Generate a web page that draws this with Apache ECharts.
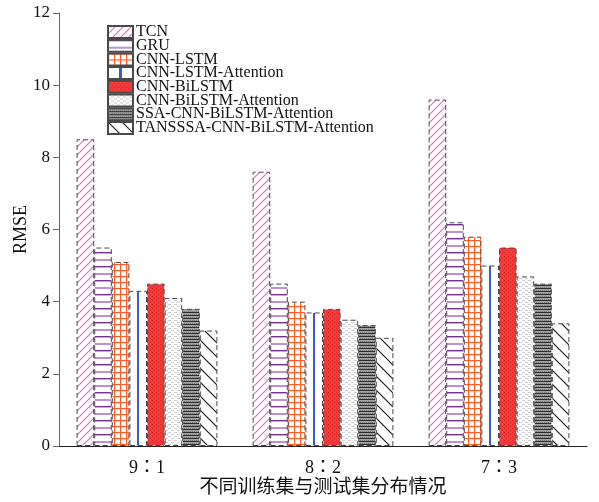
<!DOCTYPE html>
<html>
<head>
<meta charset="utf-8">
<script src="https://cdn.jsdelivr.net/npm/echarts@6/dist/echarts.min.js"></script>
<style>
  html, body { margin: 0; padding: 0; background: #fff; }
  #chart { width: 599px; height: 502px; }
</style>
</head>
<body>
<div id="chart"></div>
<script>
// Training/test split ratios on the x axis
const categories = ['9：1', '8：2', '7：3'];

// RMSE of each model per split
const tcn          = [8.5, 7.6, 9.6];
const gru          = [5.5, 4.5, 6.2];
const cnnLstm      = [5.1, 4.0, 5.8];
const cnnLstmAtt   = [4.3, 3.7, 5.0];
const cnnBiLstm    = [4.5, 3.8, 5.5];
const cnnBiLstmAtt = [4.1, 3.5, 4.7];
const ssaModel     = [3.8, 3.35, 4.5];
const tanModel     = [3.2, 3.0, 3.4];

const modelNames = [
  'TCN', 'GRU', 'CNN-LSTM', 'CNN-LSTM-Attention', 'CNN-BiLSTM',
  'CNN-BiLSTM-Attention', 'SSA-CNN-BiLSTM-Attention', 'TANSSSA-CNN-BiLSTM-Attention'
];
const modelValues = [tcn, gru, cnnLstm, cnnLstmAtt, cnnBiLstm, cnnBiLstmAtt, ssaModel, tanModel];

// ---- hatch fills -------------------------------------------------------
function tile(w, h, draw) {
  const c = document.createElement('canvas');
  c.width = w; c.height = h;
  const ctx = c.getContext('2d');
  draw(ctx, w, h);
  return { image: c, repeat: 'repeat' };
}

const fillTcn = tile(8, 8, (ctx, w, h) => {
  ctx.fillStyle = '#fff'; ctx.fillRect(0, 0, w, h);
  ctx.strokeStyle = '#ee6cb8'; ctx.lineWidth = 1.2;
  ctx.beginPath();
  ctx.moveTo(-1, h + 1); ctx.lineTo(w + 1, -1);
  ctx.moveTo(-1, 1); ctx.lineTo(1, -1);
  ctx.moveTo(w - 1, h + 1); ctx.lineTo(w + 1, h - 1);
  ctx.stroke();
});

const fillGru = tile(4, 14, (ctx, w, h) => {
  ctx.fillStyle = '#fff'; ctx.fillRect(0, 0, w, h);
  ctx.fillStyle = '#6f2e98'; ctx.fillRect(0, 0, w, 1.4);
  ctx.fillStyle = '#b893d8'; ctx.fillRect(0, 7, w, 2);
});

const fillCnnLstm = tile(6, 6, (ctx, w, h) => {
  ctx.fillStyle = '#fff'; ctx.fillRect(0, 0, w, h);
  ctx.fillStyle = '#fb5e24';
  ctx.fillRect(0, 0, w, 1.2);
  ctx.fillRect(0, 0, 1.2, h);
});

const fillCnnLstmAtt = {
  type: 'linear', x: 0, y: 0, x2: 1, y2: 0,
  colorStops: [
    { offset: 0, color: '#fff' }, { offset: 0.46, color: '#fff' },
    { offset: 0.46, color: '#3a5bc6' }, { offset: 0.54, color: '#3a5bc6' },
    { offset: 0.54, color: '#fff' }, { offset: 1, color: '#fff' }
  ]
};

const fillCnnBiLstm = tile(4, 4, (ctx, w, h) => {
  ctx.fillStyle = '#ef3b3b'; ctx.fillRect(0, 0, w, h);
  ctx.fillStyle = '#e02a2a'; ctx.fillRect(0, 0, 1, 1); ctx.fillRect(2, 2, 1, 1);
});

const fillCnnBiLstmAtt = tile(6, 4, (ctx, w, h) => {
  ctx.fillStyle = '#fafafa'; ctx.fillRect(0, 0, w, h);
  ctx.fillStyle = '#d2d2d2';
  ctx.fillRect(0, 0, 3, 1);
  ctx.fillRect(3, 2, 3, 1);
});

const fillSsa = tile(4, 3, (ctx, w, h) => {
  ctx.fillStyle = '#a4a4a4'; ctx.fillRect(0, 0, w, h);
  ctx.fillStyle = '#2e2e2e'; ctx.fillRect(0, 0, w, 1);
  ctx.fillStyle = '#767676'; ctx.fillRect(0, 2, 1, 1); ctx.fillRect(2, 2, 1, 1);
});

const fillTan = tile(14, 14, (ctx, w, h) => {
  ctx.fillStyle = '#fff'; ctx.fillRect(0, 0, w, h);
  ctx.strokeStyle = '#1e1e1e'; ctx.lineWidth = 1.2;
  ctx.beginPath();
  ctx.moveTo(-1, -1); ctx.lineTo(w + 1, h + 1);
  ctx.moveTo(w - 1, -1); ctx.lineTo(w + 1, 1);
  ctx.moveTo(-1, h - 1); ctx.lineTo(1, h + 1);
  ctx.stroke();
});

const fills = [fillTcn, fillGru, fillCnnLstm, fillCnnLstmAtt, fillCnnBiLstm,
               fillCnnBiLstmAtt, fillSsa, fillTan];

// ---- chart -------------------------------------------------------------
const serif = "'Liberation Serif', 'Times New Roman', serif";

const series = modelNames.map((name, i) => ({
  name: name,
  type: 'bar',
  data: modelValues[i],
  barGap: '0%',
  barCategoryGap: '20%',
  itemStyle: {
    color: fills[i],
    borderColor: '#4a4a4a',
    borderWidth: 1,
    borderType: [5, 3]
  },
  emphasis: { disabled: true }
}));

const chart = echarts.init(document.getElementById('chart'), null, { renderer: 'canvas' });
chart.setOption({
  animation: false,
  backgroundColor: '#fff',
  grid: { left: 59, right: 12, top: 13, bottom: 56, containLabel: false, outerBoundsMode: 'none' },
  legend: {
    orient: 'vertical',
    left: 107,
    top: 24,
    icon: 'rect',
    itemWidth: 25,
    itemHeight: 12,
    itemGap: -2.3,
    padding: 0,
    selectedMode: false,
    textStyle: { fontFamily: serif, fontSize: 16, color: '#111', padding: [0, 0, 0, -2] },
    data: modelNames
  },
  xAxis: {
    type: 'category',
    data: categories,
    name: '不同训练集与测试集分布情况',
    nameLocation: 'middle',
    nameGap: 30,
    nameMoveOverlap: false,
    nameTextStyle: { fontFamily: "'Noto Sans CJK SC', sans-serif", fontSize: 19, color: '#111' },
    axisLine: { lineStyle: { color: '#222', width: 1 } },
    axisTick: { show: false },
    axisLabel: {
      fontFamily: "'Liberation Serif', 'Noto Sans CJK JP', serif",
      fontSize: 18, color: '#111', margin: 13
    }
  },
  yAxis: {
    type: 'value',
    min: 0, max: 12, interval: 2,
    name: 'RMSE',
    nameLocation: 'middle',
    nameGap: 29,
    nameMoveOverlap: false,
    nameTextStyle: { fontFamily: serif, fontSize: 18, color: '#111' },
    axisLine: { show: true, lineStyle: { color: '#666', width: 1 } },
    axisTick: { show: true, inside: false, length: 6, lineStyle: { color: '#666' } },
    splitLine: { show: false },
    axisLabel: { fontFamily: serif, fontSize: 17, color: '#111', margin: 9 }
  },
  series: series
});
</script>
</body>
</html>
